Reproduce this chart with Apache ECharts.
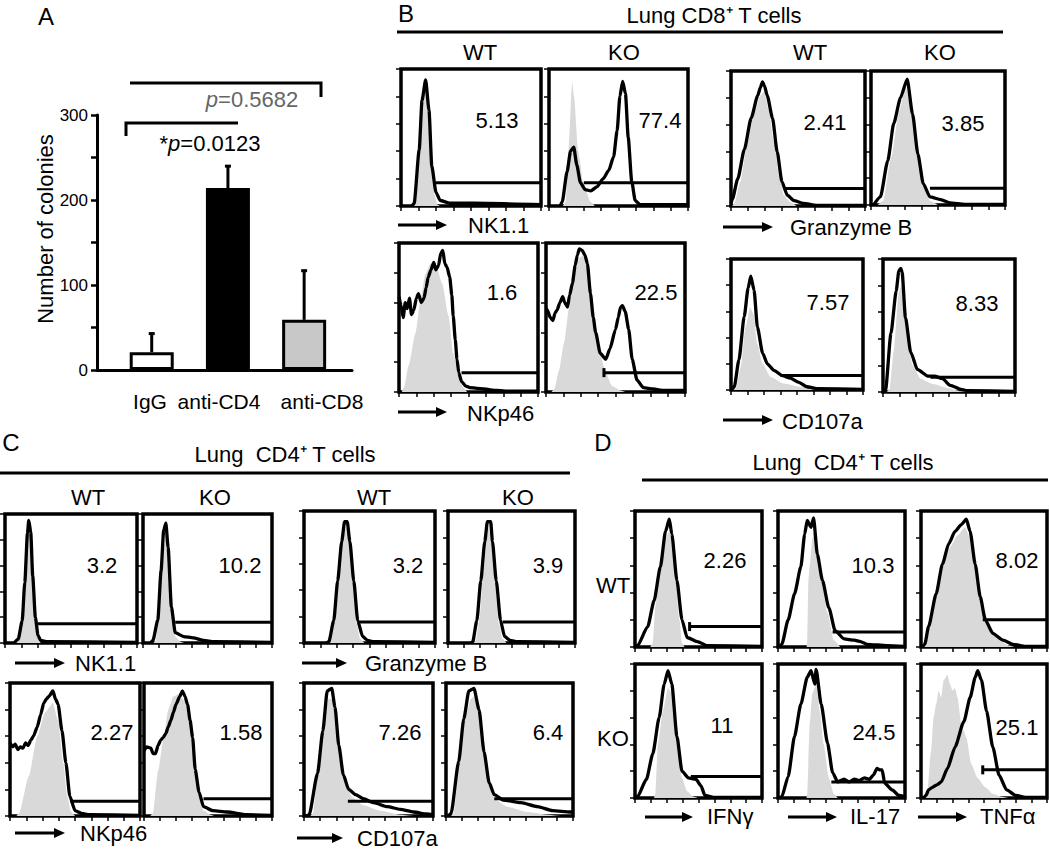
<!DOCTYPE html>
<html><head><meta charset="utf-8">
<script src="https://cdn.jsdelivr.net/npm/echarts@6/dist/echarts.min.js"></script>
<style>html,body{margin:0;padding:0;background:#fff}#c{width:1050px;height:849px}</style>
</head><body><div id="c"></div>
<script>
// ---------------- DATA ----------------
// Panel A
const barCats = ['IgG', 'anti-CD4', 'anti-CD8'];
const barMeans = [21, 214, 59];
const barErrs = [23, 27, 59];
const yTickLabels = [0, 100, 200, 300];
const pLow = 'p=0.0123';
const pHigh = 'p=0.5682';

// Histograms: [x%, y%] (x = fluorescence position across box, y = % of max count)
const B1_iso = [[9,0],[10.5,2],[14,45],[16.5,85],[17.6,88],[19,75],[21.6,35],[24,8],[26,1],[28,0]];
const B1_line = [[8,0],[9.4,2],[13,41],[15,77],[17.6,92],[20,70],[22,29],[25,10],[28,4],[35,2],[52,2],[100,1]];
const B2_iso = [[10,0],[12,3],[14,40],[16.7,90],[18,80],[21,40],[25,15],[30,3],[33,0]];
const B2_line = [[8,0],[9.5,3],[13,25],[15.5,40],[17.8,43],[20,30],[22.6,17],[26,12],[30,11],[34.5,14],[39,20],[43,26],[46.5,36],[49,55],[51,80],[53,91],[55,82],[57,50],[59.5,18],[62,4],[65.5,1],[100,1]];
const B3_iso = [[1,0],[2.5,2],[7,18],[12,45],[17,68],[22,82],[24.7,85],[28,72],[32,48],[36,22],[39.5,8],[44,3],[49,0]];
const B3_line = [[0,2],[1,5],[5,20],[10,42],[15,65],[20,82],[22,88],[23.5,92],[25,89],[27,82],[31,65],[34.5,40],[38,18],[42,8],[47,4],[54,2],[64,0.5],[100,0.5]];
const B4_iso = [[5,0],[9,3],[15,35],[21,70],[26,88],[31,65],[36,30],[41,10],[44,3],[50,0]];
const B4_line = [[2,0],[7,6],[12.5,33],[17,61],[22,80],[27,94],[31,68],[35,38],[39,16],[44,6],[52,4],[59,1.5],[70,0.5],[100,0.5]];
const B5_iso = [[2,0],[3.6,3],[7,18],[12,40],[15.5,62],[19,79],[22.6,86],[27,84],[31,73],[35.7,51],[39,26],[43,11],[46,3],[49,0]];
const B5_line = [[0,64],[1.5,58],[3,50],[4.5,60],[6,56],[7.5,63],[9,52],[10.7,55],[12.5,63],[14,66],[16,60],[18,63],[19.5,70],[21,77],[23,82],[25,87],[26.5,82],[28.5,85],[30,93],[31.5,95],[33,86],[34.5,84],[36.5,77],[38,65],[39,51],[40.5,35],[41.7,22],[43,13],[45,7],[48,4],[51,3],[56,2.5],[61,2],[70,1],[80,0.5],[100,0.5]];
const B6_iso = [[4,0],[6,2],[9.5,15],[13,33],[16.7,57],[20,77],[24,90],[27,92],[31,77],[34.5,51],[38,29],[43,13],[47.6,4],[53.6,1],[57,0]];
const B6_line = [[0,56],[1,55],[3,50],[5,48],[6.5,53],[8,55],[10,60],[12,64],[13.5,60],[15.5,57],[17,65],[19,73],[21,85],[22.6,92],[24,96],[26,95],[28,92],[29.8,86],[32,66],[34,50],[35.7,40],[39,26],[43,22],[46,29],[50,42],[52,50],[53.6,57],[55,58],[57,54],[59.5,42],[62,22],[65.5,8],[70,3],[77,2],[85,1],[100,1]];
const B7_iso = [[2,0],[4,2.5],[7.5,18],[11,48],[14.5,63],[17,58],[20,35],[24,20],[30,10],[40,5],[52.5,2.5],[62.5,0.5],[70,0]];
const B7_line = [[0,0.5],[2.5,2.5],[6,23],[10,56],[13,78],[15,87],[17.5,76],[20,48],[24,28],[27.5,20],[32.5,15],[39,11],[45,9],[51,6],[57.5,2.5],[65,1],[100,0.5]];
const B8_iso = [[3,0],[5,2],[8,30],[12,75],[14,80],[17,50],[22.5,20],[28.5,10],[38,6],[49,3],[59,0.5],[65,0]];
const B8_line = [[0,0.5],[2,2],[6,44],[10,76],[12,91],[13.5,93],[14.5,90],[17,56],[21,30],[26,17],[34,12],[39,12],[45,10],[51,5],[59,2],[64,1],[100,0.5]];

const C1_iso = [[8,0],[10,2],[13,15],[15,45],[17,82],[18,90],[19.5,82],[21,50],[23,18],[25,4],[27,0]];
const C1_line = [[7,0],[10,3],[13,17],[15,47],[17,85],[18,95],[19.5,86],[21,52],[23,20],[25,6],[27,2],[32,1],[100,0.5]];
const C2_iso = [[8,0],[10,2],[13,30],[15.5,70],[17.7,85],[20,65],[22.3,25],[25,5],[29,1],[32,0]];
const C2_line = [[6,0],[7.7,2],[11.5,18],[14,56],[16,87],[17.7,93],[19.5,74],[22,28],[25,8],[31.5,5],[39,4],[47,2],[55,1],[100,0.5]];
const C3_iso = [[19,0],[21,2],[24,20],[27,55],[30,82],[32.5,88],[35,75],[37.5,45],[40,15],[43,3],[46,0]];
const C3_line = [[17,0],[19,1],[22.7,17],[25.7,47],[28.8,77],[31,92],[33,92],[35,77],[38,47],[41,17],[44.7,5],[48.5,2],[53,1],[100,0.5]];
const C4_iso = [[20,0],[22,2],[25,20],[28,55],[31,82],[32,88],[34.5,75],[37,45],[40,15],[43,3],[46,0]];
const C4_line = [[18,0],[19.5,1],[22.7,17],[25.8,47],[29,77],[31,92],[33.6,92],[35,77],[38,47],[41.4,17],[44.5,5],[49,2],[54.6,1],[100,0.5]];
const C5_iso = [[5,0],[7,2],[14.5,30],[21,60],[27,78],[33,85],[37,72],[41,40],[44,15],[47,3],[50,0]];
const C5_line = [[0,55],[2,52],[4,54],[6,50],[8,52],[10,51],[12,55],[14,53],[16,57],[18,60],[21,67],[23.5,76],[26,85],[28,88],[30,90],[33,94],[35,88],[37,84],[40,64],[43,40],[46,15],[50,4],[55,2],[61,1],[100,0.5]];
const C6_iso = [[5,0],[7,2],[11,34],[15.5,59],[19,80],[23,90],[28,92],[32,86],[35,72],[39,44],[43,16],[46.5,4],[52,1],[55,0]];
const C6_line = [[0,49],[2,52],[5.4,51],[7,47],[9,47],[11,53],[13,57],[15,59],[17,62],[19,67],[21,72],[23,78],[25,84],[28,90],[30,94],[32,90],[34,84],[36,72],[38,59],[40,35],[43,18],[46.5,7],[54,4],[65,3],[80,1],[100,0.5]];
const C7_iso = [[5,0],[7,2],[11.5,40],[15.6,70],[19,88],[22,88],[25,70],[28.5,45],[32,25],[37.5,14],[46,8],[59,4],[74.6,1],[85,0]];
const C7_line = [[2,0],[4,1],[10.5,32],[14.6,64],[18,94],[21.5,96],[24,82],[27,53],[30.5,31],[34.6,20],[40,16],[46,13],[54,10],[64.6,7],[74.6,5],[85,3],[95,1.5],[100,1]];
const C8_iso = [[4,0],[6,2],[11,45],[15.6,75],[19.5,88],[22,90],[26,75],[30,45],[34,22],[39,12],[48,7],[64,3],[80,1],[90,0]];
const C8_line = [[2,0],[4,2],[10,41],[14,73],[18,94],[22,96],[26,80],[30,48],[34,25],[38,16],[45,12],[59,10],[72,7],[84,4],[98,3],[100,3]];

const D1_iso = [[12,0],[14,3],[16,30],[20,55],[24,80],[27,85],[31,65],[35,20],[37,3],[39,0]];
const D1_line = [[0,0],[2,1],[10,15],[15,34],[20,59],[24,85],[27,94],[29,83],[33,49],[37,20],[41,7],[49,4],[57,1],[100,0.5]];
const D2_iso = [[22.5,0],[23,2],[24,50],[25,60],[27,80],[28.5,85],[30,75],[34,50],[39,25],[44,5],[49,0]];
const D2_line = [[1,0],[3,2],[8,20],[13,39],[18,59],[21,83],[23,93],[26,88],[28,95],[31,68],[35,49],[40,29],[45,12],[52,6],[60,5],[65,4],[70,2],[86,1],[100,0.5]];
const D3_iso = [[2,0],[4,3],[9,25],[16,55],[22,72],[29,82],[35,88],[39,80],[44,55],[49,30],[55,15],[62,5],[70,1],[75,0]];
const D3_line = [[1,0],[3,2],[6,15],[12,39],[17,61],[22,76],[27,85],[32,90],[36,94],[39,85],[43,61],[47,37],[51,20],[57,10],[65,5],[73,2],[83,0.5],[100,0.5]];
const D4_iso = [[15,0],[16,3],[18,40],[22,65],[26,82],[29,78],[33,40],[37,15],[41,5],[46,1],[50,0]];
const D4_line = [[0,0],[2,1],[9,14],[14,33],[19,60],[23,85],[26,95],[29,85],[33,46],[37,20],[42,15],[48,14],[52,9],[55,2],[62,0.5],[100,0.5]];
const D5_iso = [[22.5,0],[23,3],[25,55],[27,78],[30,85],[33,65],[36,40],[40,15],[44,3],[47,0]];
const D5_line = [[1,0],[3,1],[8,16],[13,46],[18,70],[23,90],[26,95],[29,85],[30,96],[34,70],[39,41],[43,19],[47,12],[52,14],[56,12],[60,14],[64,13],[68,15],[72,14],[75,17],[78,22],[80,21],[82,21],[84,11],[90,6],[95,2],[100,1]];
const D6_iso = [[3,0],[5,5],[8,35],[10,60],[12,70],[14,80],[16,75],[18,88],[21,92],[23,85],[25,80],[27,82],[29,75],[32,55],[34,50],[36,45],[40,25],[45,15],[51,8],[57,3],[64,1],[70,0]];
const D6_line = [[2,0],[4,2],[6,6],[9,8],[13,10],[16,12],[21,22],[27,38],[34,57],[39,75],[43,90],[45,95],[48,88],[52,65],[57,38],[62,17],[68,6],[75,2],[83,0.5],[100,0.5]];

// gates [start x%, level y%] and gate percentages
const B_gates = [[25,17],[25,17],[39.5,13],[44,12.5],[45,13],[41.7,13],[37.5,11],[36,11]];
const C_gates = [[25,15],[25,16],[41.7,16],[43,16],[46.5,11],[46.5,13],[34,11],[38,13]];
const D_gates = [[43,15],[43,11],[49,20],[44,16],[42,12],[49,21]];
const B_nums = ['5.13','77.4','2.41','3.85','1.6','22.5','7.57','8.33'];
const C_nums = ['3.2','10.2','3.2','3.9','2.27','1.58','7.26','6.4'];
const D_nums = ['2.26','10.3','8.02','11','24.5','25.1'];

// ---------------- LAYOUT ----------------
const FONT = '"Liberation Sans", Arial, Helvetica, sans-serif';
const HIST = [
  // B
  {iso:B1_iso, line:B1_line, rect:[401,69,140,137], np:[497,120]},
  {iso:B2_iso, line:B2_line, rect:[549,69,139,137], np:[660,120]},
  {iso:B3_iso, line:B3_line, rect:[731,71,134,135], np:[825,122]},
  {iso:B4_iso, line:B4_line, rect:[871,71,134,134], np:[963,123]},
  {iso:B5_iso, line:B5_line, rect:[399,243,139,149], np:[502,292]},
  {iso:B6_iso, line:B6_line, rect:[546,243,139,149], np:[656,292], cap:true},
  {iso:B7_iso, line:B7_line, rect:[731,259,132,131], np:[828,302]},
  {iso:B8_iso, line:B8_line, rect:[883,259,132,133], np:[977,303]},
  // C
  {iso:C1_iso, line:C1_line, rect:[5,514,132,129], np:[102,565]},
  {iso:C2_iso, line:C2_line, rect:[143,514,129,129], np:[240,565]},
  {iso:C3_iso, line:C3_line, rect:[304,511,131,132], np:[408,565]},
  {iso:C4_iso, line:C4_line, rect:[448,511,127,132], np:[548,565]},
  {iso:C5_iso, line:C5_line, rect:[10,683,130,133], np:[112,732]},
  {iso:C6_iso, line:C6_line, rect:[144,683,128,133], np:[241,732]},
  {iso:C7_iso, line:C7_line, rect:[304,683,129,133], np:[400,732]},
  {iso:C8_iso, line:C8_line, rect:[446,683,127,133], np:[548,732]},
  // D
  {iso:D1_iso, line:D1_line, rect:[635,511,127,136], np:[725,560], cap:true},
  {iso:D2_iso, line:D2_line, rect:[778,511,127,136], np:[873,565]},
  {iso:D3_iso, line:D3_line, rect:[921,511,126,136], np:[1017,560]},
  {iso:D4_iso, line:D4_line, rect:[635,664,127,134], np:[722,725]},
  {iso:D5_iso, line:D5_line, rect:[778,664,127,134], np:[874,732]},
  {iso:D6_iso, line:D6_line, rect:[921,664,126,134], np:[1017,727], cap:true}
];
const GATES = B_gates.concat(C_gates, D_gates);
const NUMS = B_nums.concat(C_nums, D_nums);

const grids = [], xAxes = [], yAxes = [], series = [], graphic = [];

// Panel A chart
grids.push({left:97, top:115, width:255, height:255, show:false});
xAxes.push({gridIndex:0, type:'value', min:-0.718, max:2.628, axisLine:{show:true, onZero:false, lineStyle:{color:'#000', width:3}},
  axisTick:{show:false}, axisLabel:{show:false}, splitLine:{show:false}});
yAxes.push({gridIndex:0, type:'value', min:0, max:300, interval:50,
  axisLine:{show:true, onZero:false, lineStyle:{color:'#000', width:3}},
  axisTick:{show:true, length:6, lineStyle:{color:'#000', width:2.5}},
  axisLabel:{color:'#000', fontSize:17, fontFamily:FONT, margin:9,
    formatter: v => yTickLabels.indexOf(v) >= 0 ? String(v) : ''},
  splitLine:{show:false}});
const barFill = ['#ffffff', '#000000', '#c8c8c8'];
series.push({type:'bar', xAxisIndex:0, yAxisIndex:0, barWidth:44, animation:false,
  data: barMeans.map((v,i) => ({value:[i, v], itemStyle:{color:barFill[i]}})),
  itemStyle:{borderColor:'#000', borderWidth:3}, z:2});
series.push({type:'custom', xAxisIndex:0, yAxisIndex:0, animation:false, z:3,
  data: barMeans.map((v,i) => [i, v, barErrs[i]]),
  renderItem: function(params, api){
    const x = api.value(0), m = api.value(1), e = api.value(2);
    const p0 = api.coord([x, m]), p1 = api.coord([x, m + e]);
    return {type:'group', children:[
      {type:'line', shape:{x1:p0[0], y1:p0[1], x2:p1[0], y2:p1[1]}, style:{stroke:'#000', lineWidth:3}},
      {type:'line', shape:{x1:p1[0]-3, y1:p1[1]+1, x2:p1[0]+3, y2:p1[1]+1}, style:{stroke:'#000', lineWidth:3}}
    ]};
  }});

// Histogram grids
HIST.forEach((h, k) => {
  const gi = k + 1, r = h.rect, g = GATES[k];
  grids.push({left:r[0], top:r[1], width:r[2], height:r[3], show:true, borderColor:'#000', borderWidth:3.5, backgroundColor:'rgba(0,0,0,0)'});
  xAxes.push({gridIndex:gi, type:'value', min:0, max:100, interval:12.5, axisLine:{show:false, onZero:false},
    axisTick:{show:true, inside:false, length:5, lineStyle:{color:'#000', width:1.5}},
    axisLabel:{show:false}, splitLine:{show:false}});
  yAxes.push({gridIndex:gi, type:'value', min:0, max:100, interval:20, axisLine:{show:false, onZero:false},
    axisTick:{show:true, inside:false, length:5, lineStyle:{color:'#000', width:1.5}},
    axisLabel:{show:false}, splitLine:{show:false}});
  series.push({type:'line', xAxisIndex:gi, yAxisIndex:gi, data:h.iso, symbol:'none', animation:false, silent:true,
    smooth:0.2, smoothMonotone:'x',
    lineStyle:{opacity:0, width:0}, areaStyle:{color:'#d9d9d9', opacity:1}, z:2});
  series.push({type:'line', xAxisIndex:gi, yAxisIndex:gi, data:h.line, symbol:'none', animation:false, silent:true,
    smooth:0.2, smoothMonotone:'x',
    lineStyle:{color:'#000', width:3.3, join:'round'}, z:3});
  series.push({type:'line', xAxisIndex:gi, yAxisIndex:gi, animation:false, silent:true, showSymbol:true, symbol:'none',
    data:[{value:[g[0], g[1]], symbol: h.cap ? 'rect' : 'none', symbolSize:[3, 9], itemStyle:{color:'#000'}}, [100, g[1]]],
    lineStyle:{color:'#000', width:3}, z:4});
  graphic.push({type:'text', x:h.np[0], y:h.np[1], z:10,
    style:{text:NUMS[k], fontSize:22, fontFamily:FONT, fill:'#000', align:'center', verticalAlign:'middle'}});
});

// ---------------- TEXT & DECORATIONS ----------------
function txt(x, y, s, size, opt){
  const o = opt || {};
  graphic.push({type:'text', x:x, y:y, rotation:o.rot || 0, z:10,
    style:Object.assign({text:s, fontSize:size, fontFamily:FONT, fill:o.fill || '#000',
      align:o.align || 'center', verticalAlign:'middle'}, o.rich ? {rich:o.rich} : {})});
}
function hline(x1, x2, y){
  graphic.push({type:'line', z:10, shape:{x1:x1, y1:y, x2:x2, y2:y}, style:{stroke:'#000', lineWidth:3}});
}
function arrow(x1, x2, y){
  graphic.push({type:'line', z:10, shape:{x1:x1, y1:y, x2:x2 - 8, y2:y}, style:{stroke:'#000', lineWidth:3}});
  graphic.push({type:'polygon', z:10, shape:{points:[[x2 - 11, y - 5], [x2, y], [x2 - 11, y + 5]]}, style:{fill:'#000'}});
}

// Panel A
txt(46, 16, 'A', 24);
txt(45, 229, 'Number of colonies', 22, {rot:Math.PI/2});
const catX = [150, 219, 322];
barCats.forEach((c,i) => txt(catX[i], 401, c, 21));
graphic.push({type:'polyline', z:10, shape:{points:[[126,136],[126,123],[238,123]]}, style:{stroke:'#000', lineWidth:3, fill:null}});
graphic.push({type:'polyline', z:10, shape:{points:[[130,83],[321,83],[321,97]]}, style:{stroke:'#000', lineWidth:3, fill:null}});
const pRich = {i:{fontStyle:'italic', fontSize:22, fontFamily:FONT}, g:{fontStyle:'italic', fontSize:22, fontFamily:FONT, color:'#666'}, n:{fontSize:22, fontFamily:FONT, color:'#666'}};
txt(210, 143, '*{i|p}' + pLow.slice(1), 22, {rich:pRich});
txt(252, 99, '{g|p}{n|' + pHigh.slice(1) + '}', 22, {rich:pRich, fill:'#666'});

// Panel B
txt(406, 13, 'B', 24);
txt(714, 15, 'Lung CD8\u207A T cells', 22);
hline(397, 1003, 32);
txt(480, 52, 'WT', 22); txt(624, 52, 'KO', 22); txt(810, 52, 'WT', 22); txt(940, 52, 'KO', 22);
arrow(398, 447, 225); txt(468, 225, 'NK1.1', 22, {align:'left'});
arrow(723, 773, 227); txt(790, 227, 'Granzyme B', 22, {align:'left'});
arrow(398, 447, 412); txt(467, 413, 'NKp46', 22, {align:'left'});
arrow(723, 773, 420); txt(782, 421, 'CD107a', 22, {align:'left'});

// Panel C
txt(11, 442, 'C', 24);
txt(285, 454, 'Lung  CD4\u207A T cells', 22);
hline(0, 570, 473);
txt(88, 497, 'WT', 22); txt(215, 497, 'KO', 22); txt(374, 497, 'WT', 22); txt(518, 497, 'KO', 22);
arrow(15, 65, 663); txt(75, 663, 'NK1.1', 22, {align:'left'});
arrow(302, 347, 663); txt(365, 663, 'Granzyme B', 22, {align:'left'});
arrow(15, 65, 833); txt(80, 833, 'NKp46', 22, {align:'left'});
arrow(297, 343, 838); txt(357, 838, 'CD107a', 22, {align:'left'});

// Panel D
txt(603, 442, 'D', 24);
txt(843, 462, 'Lung  CD4\u207A T cells', 22);
hline(642, 1048, 480);
txt(613, 585, 'WT', 22); txt(613, 738, 'KO', 22);
arrow(645, 693, 817); txt(707, 816, 'IFN\u03B3', 22, {align:'left'});
arrow(788, 837, 817); txt(850, 816, 'IL-17', 22, {align:'left'});
arrow(918, 967, 817); txt(980, 816, 'TNF\u03B1', 22, {align:'left'});

const chart = echarts.init(document.getElementById('c'), null, {renderer:'svg', width:1050, height:849});
chart.setOption({
  animation:false,
  backgroundColor:'#ffffff',
  grid:grids, xAxis:xAxes, yAxis:yAxes, series:series, graphic:graphic
});
</script>
</body></html>
